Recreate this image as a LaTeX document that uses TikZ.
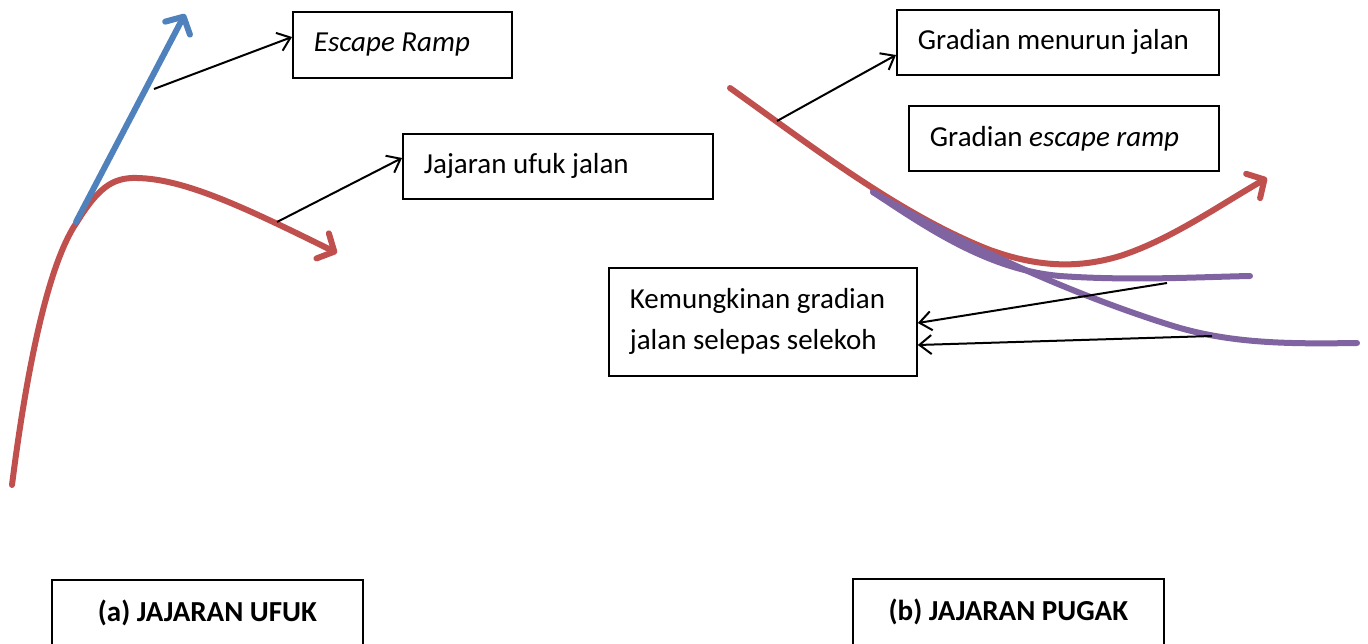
\documentclass[tikz,border=0pt]{standalone}
\usepackage{fontspec}
\setmainfont{Carlito}
\usetikzlibrary{arrows.meta}
\definecolor{offred}{HTML}{C0504D}
\definecolor{offblue}{HTML}{4F81BD}
\definecolor{offpurple}{HTML}{8064A2}
\tikzset{
  lbl/.style={draw, line width=1.8pt, anchor=north west, align=flush left, inner xsep=21pt, inner ysep=0pt,
    font=\fontsize{29}{41}\selectfont},
  captionbox/.style={draw, line width=1.8pt, anchor=north west, align=center, inner sep=0pt,
    font=\fontsize{29}{41}\selectfont\bfseries},
  thick road/.style={line width=6pt, line cap=round, line join=round},
  road arrow/.style={-{Straight Barb[length=13pt,width=28pt,line width=6pt,round]}},
  pointer/.style={line width=2pt, -{Straight Barb[length=12pt,width=19pt,line width=2pt]}},
}
\begin{document}
\begin{tikzpicture}[x=1pt,y=-1pt]
\useasboundingbox (0,0) rectangle (1368,644);

% boxes
\node[lbl, minimum width=219pt, minimum height=66pt, text width=177pt] (er) at (292,11) {\itshape Escape Ramp};
\node[lbl, minimum width=310pt, minimum height=65pt, text width=268pt] (juj) at (402,133) {Jajaran ufuk jalan};
\node[lbl, minimum width=322pt, minimum height=65pt, text width=280pt] (gmj) at (896,9) {Gradian menurun jalan};
\node[lbl, minimum width=310pt, minimum height=65pt, text width=268pt] (ger) at (908,105) {Gradian \textit{escape ramp}};
\node[lbl, minimum width=308pt, minimum height=108pt, text width=266pt] (kg) at (608,267) {Kemungkinan gradian\\jalan selepas selekoh};
\node[captionbox, minimum width=311pt, minimum height=66pt] (ca) at (51,579) {(a) JAJARAN UFUK};
\node[captionbox, minimum width=311pt, minimum height=67pt] (cb) at (852,578) {(b) JAJARAN PUGAK};

% left: horizontal alignment
\draw[thick road, offred, road arrow] (12,485) .. controls (24,390) and (45,268) .. (77,222)
  .. controls (98,188) and (112,179) .. (132,178)
  .. controls (180,177) and (240,205) .. (337,253);
\draw[thick road, offblue, road arrow] (76,222) -- (185,14);
\coordinate (pe) at (154,89);
\coordinate (pj) at (277,222);
\draw[pointer] (pe) -- (er.west |- 0,37);
\draw[pointer] (pj) -- (juj.west |- 0,158);

% right: vertical alignment
\draw[thick road, offred, road arrow] (730,88) .. controls (810,145) and (900,215) .. (990,250)
  .. controls (1040,268) and (1080,268) .. (1120,256)
  .. controls (1170,240) and (1220,205) .. (1267,178);
\draw[thick road, offpurple] (873,192) .. controls (930,230) and (990,270) .. (1060,276)
  .. controls (1130,281) and (1200,277) .. (1250,276);
\draw[thick road, offpurple] (873,192) .. controls (980,255) and (1090,300) .. (1170,325)
  .. controls (1230,344) and (1290,344) .. (1357,343);
\coordinate (pg) at (777,121);
\coordinate (p1) at (1167,283);
\coordinate (p2) at (1212,336);
\draw[pointer] (pg) -- (gmj.west |- 0,55);
\draw[pointer] (p1) -- (kg.east |- 0,323);
\draw[pointer] (p2) -- (kg.east |- 0,345);
\end{tikzpicture}
\end{document}
